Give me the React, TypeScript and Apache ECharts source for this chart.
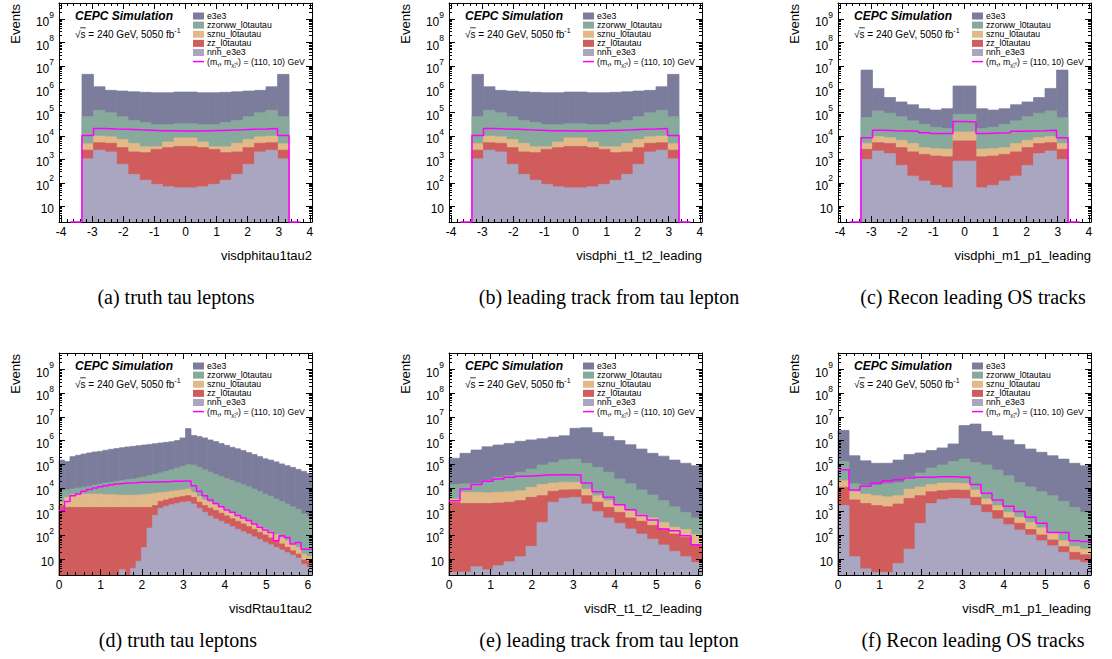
import React, { useEffect, useRef } from 'react';
import * as echarts from 'echarts';

const FONT = '"Liberation Sans", Arial, Helvetica, sans-serif';
const SERIF = '"Liberation Serif", "Times New Roman", serif';

// ---------- labels ----------
const processNames = ['e3e3', 'zzorww_l0tautau', 'sznu_l0tautau', 'zz_l0tautau', 'nnh_e3e3'];
const processColors = ['#7c7c9c', '#88aa9c', '#e2b988', '#d05c5c', '#aaa6c2'];
const signalColor = '#ff00ff';
const signalLegend = '(m{s|τ̃}, m{s|χ̃₁⁰}) = (110, 10) GeV';
const titleText = 'CEPC Simulation';
const energyText = '√s = 240 GeV, 5050 fb{e|-1}';
const yTitle = 'Events';

// ---------- axes ----------
const dphiTicks = [-4, -3, -2, -1, 0, 1, 2, 3, 4];
const dRTicks = [0, 1, 2, 3, 4, 5, 6];
const yTickValues = [1e1, 1e2, 1e3, 1e4, 1e5, 1e6, 1e7, 1e8, 1e9];
const Y_MIN = 2.1;
const Y_MAX = 5e9;

// ---------- binning ----------
const dphiBinLow = -3.7;
const dphiBinWidth = 0.37; // 20 bins
const dRBinLow = 0;
const dRCoarseWidth = 6.1 / 23; // 23 bins
const dRFineWidth = 6.1 / 46; // 46 bins

// ---------- (a) visdphitau1tau2 / (b) visdphi_t1_t2_leading : stack tops ----------
const dphiTruth_e3e3 = [0, 4.4e6, 1.3e6, 9.1e5, 8.5e5, 7.9e5, 7.5e5, 7.2e5, 7.2e5, 7.7e5, 7.7e5, 7.2e5, 7.2e5, 7.5e5, 7.9e5, 8.5e5, 9.1e5, 1.3e6, 4.4e6, 0];
const dphiTruth_zzww = [0, 6.8e4, 1.27e5, 1.0e5, 6.8e4, 4.7e4, 3.8e4, 3.1e4, 3.1e4, 3.4e4, 3.4e4, 3.1e4, 3.1e4, 3.8e4, 4.7e4, 6.8e4, 1.0e5, 1.27e5, 6.8e4, 0];
const dphiTruth_sznu = [0, 4.7e3, 1.0e4, 9.3e3, 7.2e3, 4.9e3, 3.5e3, 3.5e3, 5.6e3, 8.4e3, 8.4e3, 5.6e3, 3.5e3, 3.5e3, 4.9e3, 7.2e3, 9.3e3, 1.0e4, 4.7e3, 0];
const dphiTruth_zz = [0, 2.5e3, 5.2e3, 4.9e3, 3.2e3, 2.1e3, 1.95e3, 2.7e3, 3.2e3, 3.6e3, 3.6e3, 3.2e3, 2.7e3, 1.95e3, 2.1e3, 3.2e3, 4.9e3, 5.2e3, 2.5e3, 0];
const dphiTruth_nnh = [0, 1.07e3, 2.5e3, 2.1e3, 620, 230, 130, 86, 68, 61, 61, 68, 86, 130, 230, 620, 2.1e3, 2.5e3, 1.07e3, 0];
const dphiTruth_signal = [0, 1.07e4, 2.1e4, 2.0e4, 1.95e4, 1.85e4, 1.8e4, 1.7e4, 1.7e4, 1.65e4, 1.65e4, 1.7e4, 1.75e4, 1.8e4, 1.85e4, 1.95e4, 2.0e4, 2.1e4, 1.07e4, 0];

const dphiTrack_e3e3 = [0, 4.4e6, 1.3e6, 9.1e5, 8.5e5, 7.9e5, 7.5e5, 7.2e5, 7.2e5, 7.7e5, 7.7e5, 7.2e5, 7.2e5, 7.5e5, 7.9e5, 8.5e5, 9.1e5, 1.3e6, 4.4e6, 0];
const dphiTrack_zzww = [0, 6.8e4, 1.27e5, 1.0e5, 6.8e4, 4.7e4, 3.8e4, 3.1e4, 3.1e4, 3.4e4, 3.4e4, 3.1e4, 3.1e4, 3.8e4, 4.7e4, 6.8e4, 1.0e5, 1.27e5, 6.8e4, 0];
const dphiTrack_sznu = [0, 4.7e3, 1.0e4, 9.3e3, 7.2e3, 4.9e3, 3.5e3, 3.5e3, 5.6e3, 8.4e3, 8.4e3, 5.6e3, 3.5e3, 3.5e3, 4.9e3, 7.2e3, 9.3e3, 1.0e4, 4.7e3, 0];
const dphiTrack_zz = [0, 2.5e3, 5.2e3, 4.9e3, 3.2e3, 2.1e3, 1.95e3, 2.7e3, 3.2e3, 3.6e3, 3.6e3, 3.2e3, 2.7e3, 1.95e3, 2.1e3, 3.2e3, 4.9e3, 5.2e3, 2.5e3, 0];
const dphiTrack_nnh = [0, 1.07e3, 2.5e3, 2.1e3, 620, 230, 130, 86, 68, 61, 61, 68, 86, 130, 230, 620, 2.1e3, 2.5e3, 1.07e3, 0];
const dphiTrack_signal = [0, 1.07e4, 2.1e4, 2.0e4, 1.95e4, 1.85e4, 1.8e4, 1.7e4, 1.7e4, 1.65e4, 1.65e4, 1.7e4, 1.75e4, 1.8e4, 1.85e4, 1.95e4, 2.0e4, 2.1e4, 1.07e4, 0];

// ---------- (c) visdphi_m1_p1_leading ----------
const dphiReco_e3e3 = [0, 6.7e6, 1.1e6, 4.5e5, 2.9e5, 2.2e5, 1.5e5, 1.3e5, 1.5e5, 1.4e6, 1.4e6, 1.5e5, 1.3e5, 1.5e5, 2.2e5, 2.9e5, 4.5e5, 1.1e6, 6.7e6, 0];
const dphiReco_zzww = [0, 6.2e4, 1.2e5, 9.6e4, 6.8e4, 4.5e4, 3.2e4, 2.4e4, 2.1e4, 8.6e4, 8.6e4, 2.1e4, 2.4e4, 3.2e4, 4.5e4, 6.8e4, 9.6e4, 1.2e5, 6.2e4, 0];
const dphiReco_sznu = [0, 4.9e3, 9.5e3, 8.6e3, 6.6e3, 4.8e3, 3.2e3, 2.9e3, 2.8e3, 1.5e4, 1.5e4, 2.8e3, 2.9e3, 3.2e3, 4.8e3, 6.6e3, 8.6e3, 9.5e3, 4.9e3, 0];
const dphiReco_zz = [0, 2.7e3, 5.2e3, 4.8e3, 3.2e3, 2.1e3, 1.65e3, 1.4e3, 1.3e3, 6.2e3, 6.2e3, 1.3e3, 1.4e3, 1.65e3, 2.1e3, 3.2e3, 4.8e3, 5.2e3, 2.7e3, 0];
const dphiReco_nnh = [0, 1.0e3, 2.3e3, 1.8e3, 560, 195, 120, 78, 62, 850, 850, 62, 78, 120, 195, 560, 1.8e3, 2.3e3, 1.0e3, 0];
const dphiReco_signal = [0, 8.5e3, 1.8e4, 1.7e4, 1.65e4, 1.6e4, 1.4e4, 1.3e4, 1.3e4, 4.2e4, 4.0e4, 1.3e4, 1.35e4, 1.4e4, 1.6e4, 1.65e4, 1.7e4, 1.8e4, 8.5e3, 0];

// ---------- (d) visdRtau1tau2 (46 bins) ----------
const dRTruth_e3e3 = [1.5e5, 1.3e5, 2.1e5, 2.4e5, 2.7e5, 3.0e5, 3.3e5, 3.5e5, 3.9e5, 4.3e5, 4.6e5, 5.0e5, 5.4e5, 5.7e5, 6.1e5, 6.5e5, 6.9e5, 7.4e5, 7.9e5, 8.4e5, 9.0e5, 1.0e6, 1.3e6, 3.2e6, 1.65e6, 1.5e6, 1.3e6, 1.07e6, 9.1e5, 7.6e5, 6.3e5, 5.2e5, 4.5e5, 3.8e5, 3.1e5, 2.6e5, 2.1e5, 1.7e5, 1.5e5, 1.26e5, 1.03e5, 8.7e4, 7.4e4, 6.1e4, 5.0e4, 4.1e4];
const dRTruth_zzww = [7.7e3, 8.2e3, 9.0e3, 9.9e3, 1.06e4, 1.17e4, 1.33e4, 1.47e4, 1.62e4, 1.73e4, 1.9e4, 2.03e4, 2.24e4, 2.39e4, 2.63e4, 2.9e4, 3.3e4, 3.76e4, 4.3e4, 5.0e4, 5.9e4, 7.0e4, 8.2e4, 9.6e4, 9.3e4, 7.4e4, 5.9e4, 4.7e4, 3.76e4, 3.0e4, 2.47e4, 2.03e4, 1.67e4, 1.37e4, 1.13e4, 9.0e3, 7.2e3, 5.5e3, 4.4e3, 3.4e3, 2.7e3, 2.1e3, 1.6e3, 1.25e3, 790, 610];
const dRTruth_sznu = [2.5e3, 4.0e3, 5.2e3, 5.5e3, 5.5e3, 5.5e3, 5.5e3, 5.5e3, 5.2e3, 5.2e3, 5.0e3, 5.0e3, 5.0e3, 5.0e3, 5.0e3, 5.2e3, 5.5e3, 5.9e3, 6.3e3, 6.7e3, 7.2e3, 7.7e3, 8.2e3, 9.0e3, 6.5e3, 4.3e3, 3.1e3, 2.5e3, 1.95e3, 1.5e3, 1.17e3, 900, 700, 540, 420, 320, 240, 184, 142, 106, 77, 59, 43, 31, 16, 12.5];
const dRTruth_zz = [1.8e3, 1.5e3, 1.5e3, 1.5e3, 1.5e3, 1.5e3, 1.5e3, 1.5e3, 1.5e3, 1.5e3, 1.5e3, 1.5e3, 1.5e3, 1.5e3, 1.5e3, 1.5e3, 1.5e3, 1.8e3, 2.7e3, 3.1e3, 3.6e3, 4.0e3, 4.3e3, 4.7e3, 4.0e3, 2.5e3, 1.8e3, 1.4e3, 1.1e3, 850, 650, 500, 390, 300, 231, 178, 133, 103, 77, 59, 43, 31, 22, 16, 9, 8];
const dRTruth_nnh = [0, 0, 0, 0, 0, 0, 0, 0, 0, 0, 0, 3.5, 0, 4, 8, 30, 200, 700, 1.4e3, 1.7e3, 1.95e3, 2.2e3, 2.5e3, 2.6e3, 2.1e3, 1.4e3, 930, 650, 490, 390, 300, 230, 180, 140, 113, 86, 67, 51, 40, 31, 24, 18.5, 14.5, 11, 6, 4.5];
const dRTruth_signal = [1.1e3, 2.7e3, 4.7e3, 5.5e3, 7.2e3, 8.5e3, 9.9e3, 1.13e4, 1.25e4, 1.37e4, 1.47e4, 1.57e4, 1.62e4, 1.67e4, 1.73e4, 1.73e4, 1.78e4, 1.78e4, 1.84e4, 1.84e4, 1.9e4, 1.9e4, 1.96e4, 1.96e4, 1.25e4, 7.2e3, 4.7e3, 3.1e3, 2.2e3, 1.6e3, 1.17e3, 930, 680, 540, 420, 300, 220, 167, 132, 59, 96, 81, 43, 50, 26, 26];

// ---------- (e) visdR_t1_t2_leading (23 bins) ----------
const dRTrack_e3e3 = [1.8e5, 2.9e5, 4.0e5, 5.5e5, 6.5e5, 7.6e5, 9.3e5, 1.07e6, 1.2e6, 1.4e6, 1.6e6, 3.3e6, 3.5e6, 2.2e6, 1.5e6, 1.0e6, 6.7e5, 4.4e5, 2.9e5, 2.2e5, 1.5e5, 1.1e5, 8.7e4];
const dRTrack_zzww = [1.4e4, 1.5e4, 1.55e4, 2.0e4, 2.8e4, 3.3e4, 4.6e4, 6.3e4, 9.3e4, 1.2e5, 1.55e5, 1.65e5, 1.1e5, 7.4e4, 4.6e4, 2.4e4, 1.5e4, 8.2e3, 5.0e3, 2.9e3, 1.6e3, 930, 540];
const dRTrack_sznu = [3.4e3, 6.5e3, 6.5e3, 6.2e3, 6.5e3, 6.9e3, 7.6e3, 1.07e4, 1.4e4, 1.6e4, 1.75e4, 1.7e4, 8.9e3, 4.7e3, 2.9e3, 1.8e3, 1.1e3, 740, 540, 350, 220, 175, 107];
const dRTrack_zz = [2.5e3, 2.2e3, 2.2e3, 2.2e3, 2.3e3, 2.5e3, 2.9e3, 4.0e3, 4.7e3, 7.2e3, 8.2e3, 8.4e3, 4.7e3, 2.5e3, 1.5e3, 930, 540, 390, 260, 185, 113, 81, 40];
const dRTrack_nnh = [2.7, 2.8, 4.7, 3.5, 5.2, 7.6, 12.5, 34, 350, 2.5e3, 3.7e3, 4.0e3, 2.1e3, 1.0e3, 540, 320, 185, 113, 69, 39, 21, 12.5, 7.2];
const dRTrack_signal = [2.9e3, 8.9e3, 1.4e4, 1.9e4, 2.4e4, 2.8e4, 3.1e4, 3.3e4, 3.5e4, 3.6e4, 3.6e4, 3.5e4, 1.6e4, 6.9e3, 4.0e3, 1.95e3, 1.2e3, 680, 440, 185, 155, 96, 40];

// ---------- (f) visdR_m1_p1_leading (23 bins) ----------
const dRReco_e3e3 = [2.7e6, 2.3e5, 1.4e5, 1.1e5, 1.1e5, 1.5e5, 2.6e5, 3.0e5, 3.8e5, 4.9e5, 7.2e5, 4.3e6, 5.0e6, 2.4e6, 1.6e6, 1.07e6, 6.8e5, 4.4e5, 3.2e5, 2.3e5, 1.65e5, 1.1e5, 8.7e4];
const dRReco_zzww = [1.3e5, 1.5e4, 1.26e4, 1.3e4, 1.5e4, 1.7e4, 2.8e4, 4.3e4, 6.9e4, 9.3e4, 1.3e5, 1.65e5, 1.2e5, 9.3e4, 5.7e4, 3.3e4, 1.7e4, 1.1e4, 6.9e3, 4.7e3, 2.7e3, 1.5e3, 930];
const dRReco_sznu = [2.0e4, 6.9e3, 5.5e3, 4.7e3, 4.2e3, 4.7e3, 8.9e3, 1.1e4, 1.4e4, 1.6e4, 1.6e4, 1.55e4, 8.2e3, 3.4e3, 1.8e3, 930, 580, 350, 205, 125, 59, 34, 26];
const dRReco_zz = [1.07e4, 3.1e3, 2.2e3, 1.8e3, 1.6e3, 2.1e3, 3.6e3, 4.7e3, 6.9e3, 7.6e3, 8.2e3, 8.0e3, 4.0e3, 1.95e3, 1.1e3, 540, 320, 175, 103, 63, 33, 19, 15];
const dRReco_nnh = [1.8e3, 12.5, 3.8, 2.7, 2.7, 6.5, 26, 320, 2.2e3, 3.2e3, 3.6e3, 3.5e3, 1.8e3, 930, 490, 280, 166, 103, 59, 36, 19, 9, 7.2];
const dRReco_signal = [5.9e4, 8.2e3, 1.17e4, 1.6e4, 2.0e4, 2.2e4, 2.6e4, 2.8e4, 2.8e4, 3.0e4, 3.0e4, 2.8e4, 1.4e4, 5.9e3, 3.1e3, 1.67e3, 1.0e3, 580, 320, 132, 132, 59, 55];

// ---------- panels ----------
const panels = [
  { stacks: [dphiTruth_e3e3, dphiTruth_zzww, dphiTruth_sznu, dphiTruth_zz, dphiTruth_nnh], signal: dphiTruth_signal, binLow: dphiBinLow, binWidth: dphiBinWidth, xMin: -4.07, xMax: 4.07, ticks: dphiTicks, xTitle: 'visdphitau1tau2', caption: '(a) truth tau leptons' },
  { stacks: [dphiTrack_e3e3, dphiTrack_zzww, dphiTrack_sznu, dphiTrack_zz, dphiTrack_nnh], signal: dphiTrack_signal, binLow: dphiBinLow, binWidth: dphiBinWidth, xMin: -4.07, xMax: 4.07, ticks: dphiTicks, xTitle: 'visdphi_t1_t2_leading', caption: '(b) leading track from tau lepton' },
  { stacks: [dphiReco_e3e3, dphiReco_zzww, dphiReco_sznu, dphiReco_zz, dphiReco_nnh], signal: dphiReco_signal, binLow: dphiBinLow, binWidth: dphiBinWidth, xMin: -4.07, xMax: 4.07, ticks: dphiTicks, xTitle: 'visdphi_m1_p1_leading', caption: '(c) Recon leading OS tracks' },
  { stacks: [dRTruth_e3e3, dRTruth_zzww, dRTruth_sznu, dRTruth_zz, dRTruth_nnh], signal: dRTruth_signal, binLow: dRBinLow, binWidth: dRFineWidth, xMin: 0, xMax: 6.1, ticks: dRTicks, xTitle: 'visdRtau1tau2', caption: '(d) truth tau leptons' },
  { stacks: [dRTrack_e3e3, dRTrack_zzww, dRTrack_sznu, dRTrack_zz, dRTrack_nnh], signal: dRTrack_signal, binLow: dRBinLow, binWidth: dRCoarseWidth, xMin: 0, xMax: 6.1, ticks: dRTicks, xTitle: 'visdR_t1_t2_leading', caption: '(e) leading track from tau lepton' },
  { stacks: [dRReco_e3e3, dRReco_zzww, dRReco_sznu, dRReco_zz, dRReco_nnh], signal: dRReco_signal, binLow: dRBinLow, binWidth: dRCoarseWidth, xMin: 0, xMax: 6.1, ticks: dRTicks, xTitle: 'visdR_m1_p1_leading', caption: '(f) Recon leading OS tracks' },
];

// ---------- layout ----------
const PANEL_W = 253;
const panelLeft = [59, 449, 838, 59, 449, 838];
const panelTop = [3, 3, 3, 353, 353, 353];
const panelHeight = [219, 219, 219, 222, 222, 222];
const captionX = [176, 609, 973, 178, 609, 973];
const captionY = [297, 297, 297, 640, 640, 640];

function xMinorTicks(p: any) {
  const out: number[] = [];
  for (let k = -40; k <= 40; k++) {
    if (k % 5 === 0) continue;
    const v = Math.round(k * 2) / 10;
    if (v > p.xMin && v < p.xMax) out.push(v);
  }
  return out;
}
function yMinorTicks() {
  const out: number[] = [];
  for (let n = 0; n <= 9; n++) {
    for (let m = 2; m <= 9; m++) {
      const v = m * Math.pow(10, n);
      if (v >= Y_MIN && v <= Y_MAX) out.push(v);
    }
  }
  return out;
}

function makeRect(color: string) {
  return (params: any, api: any) => {
    const v = api.value(2);
    if (!(v > Y_MIN)) return null;
    const p0 = api.coord([api.value(0), v]);
    const p1 = api.coord([api.value(1), Y_MIN]);
    return {
      type: 'rect',
      shape: { x: p0[0], y: p0[1], width: p1[0] - p0[0], height: p1[1] - p0[1] },
      style: { fill: color, stroke: color, lineWidth: 0.7 },
    };
  };
}

function buildOption() {
  const grid: any[] = [];
  const xAxis: any[] = [];
  const yAxis: any[] = [];
  const series: any[] = [];
  const elements: any[] = [];
  const yMinor = yMinorTicks();
  const black = { color: '#000', width: 1 };

  panels.forEach((p, i) => {
    const L = panelLeft[i];
    const T = panelTop[i];
    const H = panelHeight[i];
    const W = PANEL_W;
    grid.push({ left: L, top: T, width: W, height: H });
    const xMinor = xMinorTicks(p);
    const xb = { gridIndex: i, type: 'value', min: p.xMin, max: p.xMax, z: 10, splitLine: { show: false } };
    xAxis.push(
      {
        ...xb, position: 'bottom',
        axisLine: { show: true, onZero: false, lineStyle: black },
        axisTick: { show: true, inside: true, length: 6, customValues: p.ticks, lineStyle: black },
        axisLabel: { show: true, customValues: p.ticks, margin: 4, color: '#000', fontSize: 12, fontFamily: FONT, formatter: (v: number) => String(v) },
      },
      {
        ...xb, position: 'bottom',
        axisLine: { show: false, onZero: false },
        axisTick: { show: true, inside: true, length: 3, customValues: xMinor, lineStyle: black },
        axisLabel: { show: false },
      },
      {
        ...xb, position: 'top',
        axisLine: { show: true, onZero: false, lineStyle: black },
        axisTick: { show: true, inside: true, length: 6, customValues: p.ticks, lineStyle: black },
        axisLabel: { show: false },
      },
      {
        ...xb, position: 'top',
        axisLine: { show: false, onZero: false },
        axisTick: { show: true, inside: true, length: 3, customValues: xMinor, lineStyle: black },
        axisLabel: { show: false },
      },
    );
    const yb = { gridIndex: i, type: 'log', logBase: 10, min: Y_MIN, max: Y_MAX, z: 10, splitLine: { show: false } };
    yAxis.push(
      {
        ...yb, position: 'left',
        axisLine: { show: true, onZero: false, lineStyle: black },
        axisTick: { show: true, inside: true, length: 6, customValues: yTickValues, lineStyle: black },
        axisLabel: {
          show: true, customValues: yTickValues, margin: 5, color: '#000', fontFamily: FONT,
          formatter: (v: number) => {
            const n = Math.round(Math.log10(v));
            return n === 1 ? '{b|10}' : `{b|10}{e|${n}}`;
          },
          rich: {
            b: { fontSize: 12, fontFamily: FONT, color: '#000', lineHeight: 18, verticalAlign: 'bottom' },
            e: { fontSize: 8.5, fontFamily: FONT, color: '#000', lineHeight: 10, verticalAlign: 'top' },
          },
        },
      },
      {
        ...yb, position: 'left',
        axisLine: { show: false, onZero: false },
        axisTick: { show: true, inside: true, length: 3, customValues: yMinor, lineStyle: black },
        axisLabel: { show: false },
      },
      {
        ...yb, position: 'right',
        axisLine: { show: true, onZero: false, lineStyle: black },
        axisTick: { show: true, inside: true, length: 6, customValues: yTickValues, lineStyle: black },
        axisLabel: { show: false },
      },
      {
        ...yb, position: 'right',
        axisLine: { show: false, onZero: false },
        axisTick: { show: true, inside: true, length: 3, customValues: yMinor, lineStyle: black },
        axisLabel: { show: false },
      },
    );

    p.stacks.forEach((vals, j) => {
      series.push({
        type: 'custom',
        name: processNames[j],
        xAxisIndex: 4 * i,
        yAxisIndex: 4 * i,
        z: 2 + j,
        silent: true,
        encode: { x: [0, 1], y: 2 },
        data: vals
          .map((v, k) => [p.binLow + k * p.binWidth, p.binLow + (k + 1) * p.binWidth, v])
          .filter((d) => d[2] > 0),
        renderItem: makeRect(processColors[j]),
      });
    });

    const sig: number[][] = p.signal.map((v, k) => [p.binLow + k * p.binWidth, v > 0 ? v : Y_MIN]);
    const last = p.signal[p.signal.length - 1];
    sig.push([Math.min(p.binLow + p.signal.length * p.binWidth, p.xMax), last > 0 ? last : Y_MIN]);
    series.push({
      type: 'line',
      name: 'signal',
      xAxisIndex: 4 * i,
      yAxisIndex: 4 * i,
      step: 'end',
      symbol: 'none',
      z: 12,
      clip: false,
      silent: true,
      lineStyle: { color: signalColor, width: 1.5 },
      data: sig,
    });

    // texts
    elements.push({
      type: 'text', x: L + 16, y: T + 13, z: 20,
      style: { text: titleText, fontSize: 12, fontWeight: 'bold', fontStyle: 'italic', fontFamily: FONT, fill: '#000', verticalAlign: 'middle' },
    });
    elements.push({
      type: 'text', x: L + 16, y: T + 31, z: 20,
      style: {
        text: energyText, fontSize: 10, fontFamily: FONT, fill: '#000', verticalAlign: 'middle', lineHeight: 14,
        rich: { e: { fontSize: 7, fontFamily: FONT, fill: '#000', lineHeight: 8, verticalAlign: 'top' } },
      },
    });
    // overline of the square root
    elements.push({
      type: 'line', z: 20,
      shape: { x1: L + 21.2, y1: T + 24.8, x2: L + 26.8, y2: T + 24.8 },
      style: { stroke: '#000', lineWidth: 0.8 },
    });
    for (let j = 0; j < 6; j++) {
      const ry = T + 13 + 9.12 * j;
      if (j < 5) {
        elements.push({ type: 'rect', z: 20, shape: { x: L + 134, y: ry - 3.5, width: 11, height: 7 }, style: { fill: processColors[j] } });
        elements.push({
          type: 'text', x: L + 148, y: ry, z: 20,
          style: { text: processNames[j], fontSize: 8.7, fontFamily: FONT, fill: '#000', verticalAlign: 'middle' },
        });
      } else {
        elements.push({ type: 'line', z: 20, shape: { x1: L + 134, y1: ry, x2: L + 145, y2: ry }, style: { stroke: signalColor, lineWidth: 1.5 } });
        elements.push({
          type: 'text', x: L + 148, y: ry, z: 20,
          style: {
            text: signalLegend, fontSize: 8.7, fontFamily: FONT, fill: '#000', verticalAlign: 'middle', lineHeight: 12,
            rich: { s: { fontSize: 5.5, fontFamily: FONT, fill: '#000', lineHeight: 7, verticalAlign: 'bottom' } },
          },
        });
      }
    }
    elements.push({
      type: 'text', x: L - 44, y: T + 1, rotation: Math.PI / 2, z: 20,
      style: { text: yTitle, fontSize: 13, fontFamily: FONT, fill: '#000', align: 'right', verticalAlign: 'middle' },
    });
    elements.push({
      type: 'text', x: L + W, y: T + H + 33, z: 20,
      style: { text: p.xTitle, fontSize: 13, fontFamily: FONT, fill: '#000', align: 'right', verticalAlign: 'middle' },
    });
    elements.push({
      type: 'text', x: captionX[i], y: captionY[i], z: 20,
      style: { text: p.caption, fontSize: 20, fontFamily: SERIF, fill: '#000', align: 'center', verticalAlign: 'middle' },
    });
  });

  return {
    animation: false,
    backgroundColor: '#fff',
    textStyle: { fontFamily: FONT },
    grid,
    xAxis,
    yAxis,
    series,
    graphic: { elements },
  };
}

export default function App() {
  const ref = useRef<HTMLDivElement>(null);
  useEffect(() => {
    const chart = echarts.init(ref.current as HTMLDivElement, null, { renderer: 'svg' });
    chart.setOption(buildOption() as any);
    return () => chart.dispose();
  }, []);
  return (
    <div
      ref={ref}
      style={{ position: 'absolute', left: 0, top: 0, width: 1112, height: 659, background: '#fff' }}
    />
  );
}
